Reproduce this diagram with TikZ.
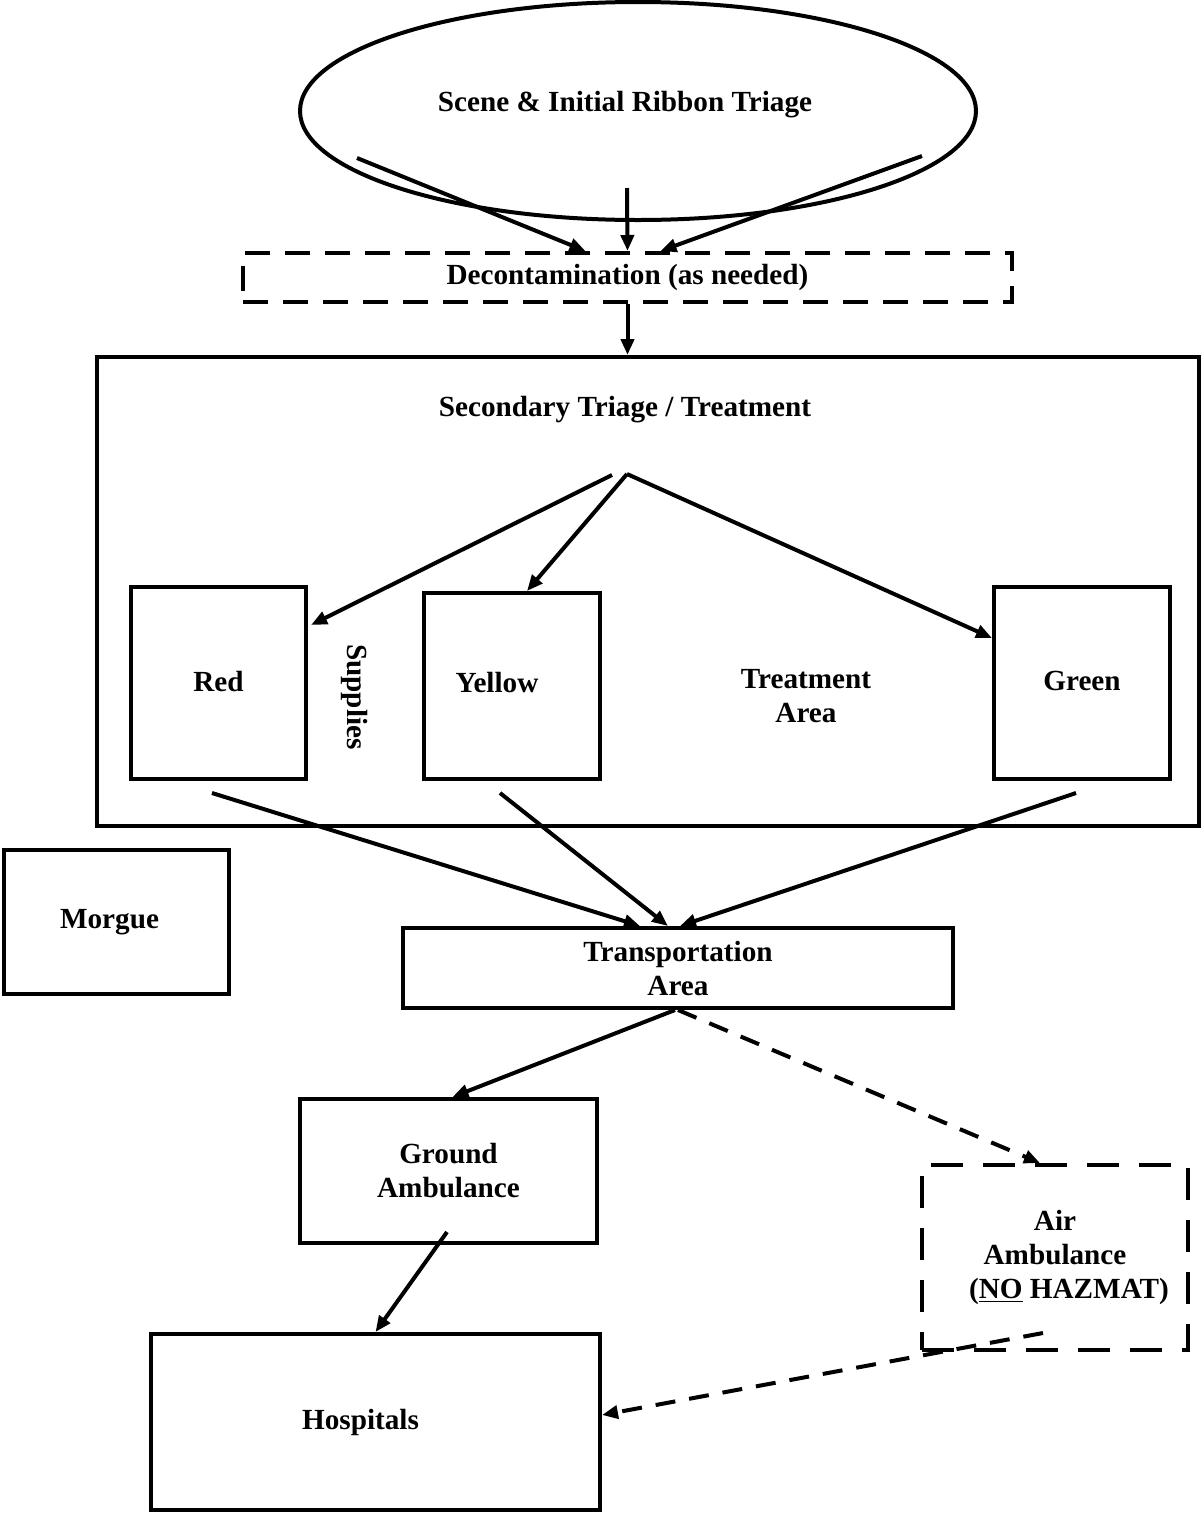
\documentclass[tikz,border=0pt]{standalone}
\usepackage{fontspec}
\setmainfont{Liberation Serif}
\usepackage{tikz}
\usetikzlibrary{arrows.meta,positioning,calc,shapes.geometric}
\newcommand{\bodysize}{\fontsize{14.6}{17}\selectfont}
\tikzset{
  box/.style={rectangle, draw=black, line width=2pt, align=center,
    inner sep=3pt, font=\bfseries\bodysize},
  dbox/.style={box, dash pattern=on 12.5pt off 7.5pt},
  airbox/.style={box, dash pattern=on 16pt off 10pt},
  scene/.style={ellipse, draw=black, line width=2pt, inner sep=0pt,
    minimum width=338pt, minimum height=109pt, font=\bfseries\bodysize},
  lbl/.style={align=center, inner sep=1pt, font=\bfseries\bodysize},
  flow/.style={-{Triangle[length=8pt,width=6.5pt]}, line width=2pt},
  alt/.style={flow, dash pattern=on 10pt off 7pt},
}

\begin{document}
\begin{tikzpicture}[x=0.5pt, y=-0.5pt]
    \useasboundingbox (0,0) rectangle (1201,1516);

    \node[scene] (scene) at (638,111) {};
    \node[lbl] (scenetxt) at (625,105) {Scene \& Initial Ribbon Triage};
    \node[dbox, minimum width=384.5pt, minimum height=24.5pt] (decon) at (627.5,277.5)
      {Decontamination (as needed)};

    \node[box, minimum width=551pt, minimum height=234.5pt] (treat) at (648,591.5) {};
    \node[lbl] (sectxt) at (625,410) {Secondary Triage / Treatment};
    \node[box, minimum width=87.5pt, minimum height=96pt] (red) at (218.5,683)
      {\raisebox{2pt}{Red}};
    \node[box, minimum width=88pt, minimum height=93pt] (yellow) at (512,686)
      {\raisebox{3.5pt}{Yellow}\hspace{15pt}};
    \node[box, minimum width=88pt, minimum height=96pt] (green) at (1082,683)
      {\raisebox{2pt}{Green}};
    \node[lbl, rotate=-90] (supplies) at (355,697) {Supplies};
    \node[lbl] (tarea) at (806,696) {Treatment\\Area};

    \node[box, minimum width=112.5pt, minimum height=72pt] (morgue) at (116.5,922)
      {\raisebox{2pt}{Morgue}\hspace{7pt}};
    \node[box, minimum width=275pt, minimum height=40pt] (transport) at (678,968)
      {Transportation\\Area};
    \node[box, minimum width=148.5pt, minimum height=72pt] (ground) at (448.5,1171)
      {Ground\\Ambulance};
    \node[airbox, minimum width=133pt, minimum height=92.5pt] (air) at (1055,1257.5)
      {Air\\Ambulance\hspace{5pt}\\ \hspace*{14pt}(\underline{NO} HAZMAT)};
    \node[box, minimum width=224.5pt, minimum height=88pt] (hosp) at (375.5,1422)
      {Hospitals\hspace{15pt}};

    \coordinate (sl) at (357,158);
    \coordinate (sm) at (627,188);
    \coordinate (sr) at (922,156);
    \coordinate (apex) at (627,474);
    \coordinate (apexl) at (612,475);
    \coordinate (rout) at (212,793);
    \coordinate (yout) at (500,793);
    \coordinate (gout) at (1076,793);
    \coordinate (gaout) at (447,1232);
    \coordinate (aaout) at (1043,1333);

    \draw[flow] (sl) -- ($(decon.north)+(-42,0)$);
    \draw[flow] (sm) -- (decon.north);
    \draw[flow] (sr) -- ($(decon.north)+(33,0)$);
    \draw[flow] (decon.south) -- (decon.south |- treat.north);

    \draw[flow] (apexl) -- ($(red.north east)+(3,40)$);
    \draw[flow] (apex) -- ($(yellow.north)+(15,0)$);
    \draw[flow] (apex) -- ($(green.north west)+(0,53)$);

    \draw[flow] (rout) -- ($(transport.north)+(-38,0)$);
    \draw[flow] (yout) -- ($(transport.north)+(-10,0)$);
    \draw[flow] (gout) -- ($(transport.north)+(2,0)$);

    \draw[flow] ($(transport.south)+(-3,0)$) -- ($(ground.north)+(4,0)$);
    \draw[alt] (transport.south) -- ($(air.north)+(-15,0)$);
    \draw[flow] (gaout) -- (hosp.north);
    \draw[alt] (aaout) -- ($(hosp.east)+(0,-7)$);
  \end{tikzpicture}
\end{document}
